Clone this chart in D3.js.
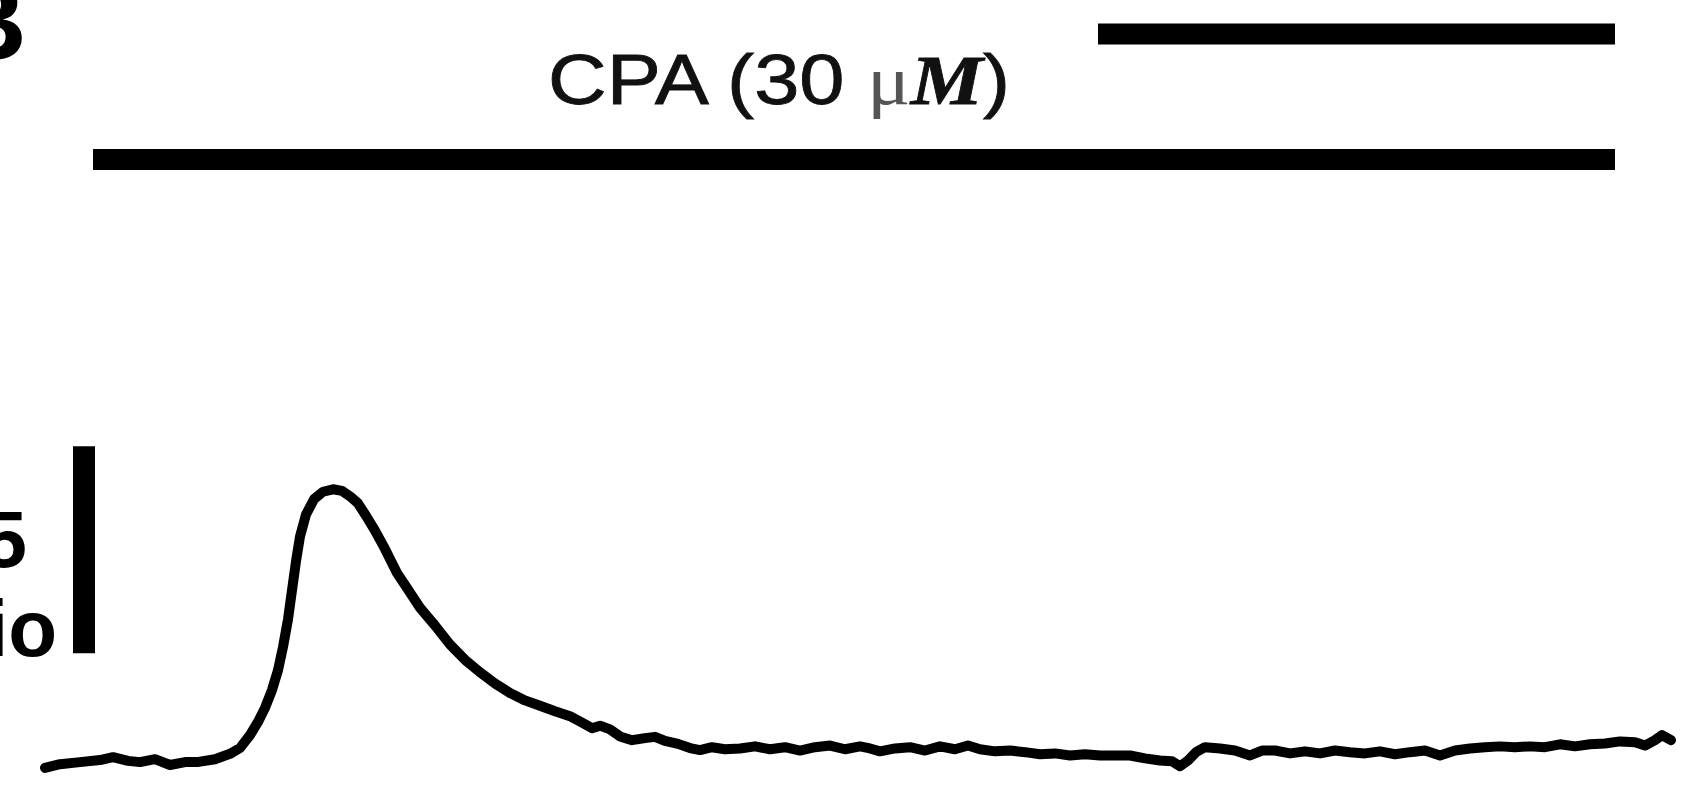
<!DOCTYPE html>
<html>
<head>
<meta charset="utf-8">
<script src="https://cdn.jsdelivr.net/npm/d3@7"></script>
<style>
  html, body { margin: 0; padding: 0; background: #fff; overflow: hidden; }
  svg { display: block; }
</style>
</head>
<body>
<svg id="chart" width="1685" height="788"></svg>
<script>
// Fura-2 style ratio trace, time in s
const timeS = [0,15,35,55,68,83,95,110,125,140,152,170,185,195,205,213,220,227,233,238,
  243,247,251,255,261,269,278,288,297,305,313,321,330,340,352,363,375,390,405,420,
  435,450,465,480,495,510,525,538,547,555,565,575,587,600,610,620,633,645,655,667,
  680,695,710,725,740,755,770,785,800,815,825,835,850,865,880,895,910,923,935,950,
  965,980,995,1010,1025,1040,1055,1070,1085,1100,1115,1127,1135,1143,1151,1160,1175,1190,1205,1217,
  1230,1245,1260,1275,1290,1305,1320,1335,1350,1365,1380,1395,1410,1425,1440,1455,1470,1485,1500,1515,
  1530,1545,1560,1575,1590,1600,1610,1617,1626];

const ratio = [0.793,0.802,0.807,0.812,0.819,0.810,0.807,0.814,0.800,0.807,0.807,0.814,0.827,0.841,0.872,0.904,0.938,0.981,1.029,1.085,
  1.152,1.222,1.292,1.352,1.405,1.442,1.460,1.466,1.462,1.449,1.432,1.402,1.366,1.322,1.264,1.224,1.180,1.137,1.091,1.054,
  1.024,0.997,0.974,0.956,0.943,0.930,0.918,0.901,0.889,0.895,0.886,0.869,0.860,0.865,0.868,0.858,0.851,0.841,0.836,0.843,
  0.838,0.840,0.845,0.838,0.843,0.835,0.843,0.847,0.838,0.845,0.840,0.833,0.840,0.843,0.835,0.845,0.838,0.847,0.838,0.833,
  0.835,0.831,0.826,0.828,0.823,0.826,0.823,0.823,0.823,0.816,0.811,0.809,0.797,0.811,0.831,0.843,0.840,0.835,0.823,0.835,
  0.835,0.828,0.833,0.828,0.835,0.831,0.828,0.833,0.826,0.831,0.835,0.823,0.835,0.840,0.843,0.845,0.843,0.845,0.843,0.850,
  0.845,0.850,0.852,0.857,0.855,0.847,0.860,0.872,0.860];

// drug application bars (start, end in s)
const cpaBar = [48, 1570];
const upperBar = [1053, 1570];
const cpaLabel = "CPA (30 ";

// vertical scale bar: 0.5 ratio units
const scaleBarStart = 1.07;
const scaleBarLength = 0.5;
const scaleBarLabels = ["0.5", "Ratio"];

const svg = d3.select("#chart");

const x = d3.scaleLinear().domain([0, 1626]).range([45, 1671]);
const y = d3.scaleLinear().domain([0.8, 1.3]).range([765, 558]);

const data = timeS.map((t, i) => ({ t, r: ratio[i] }));

// panel letter, clipped at the top edge
svg.append("text")
    .attr("x", 27)
    .attr("y", 60)
    .attr("text-anchor", "end")
    .style("font-family", "Liberation Sans, Arial, sans-serif")
    .style("font-weight", "bold")
    .style("font-size", "112px")
    .text("B");

// application bars
svg.append("line")
    .attr("x1", x(upperBar[0])).attr("x2", x(upperBar[1]))
    .attr("y1", 34).attr("y2", 34)
    .attr("stroke", "#000").attr("stroke-width", 21);

svg.append("line")
    .attr("x1", x(cpaBar[0])).attr("x2", x(cpaBar[1]))
    .attr("y1", 159.5).attr("y2", 159.5)
    .attr("stroke", "#000").attr("stroke-width", 21);

const labelG = svg.append("g");
const label = labelG.append("text")
    .attr("x", 0)
    .attr("y", 0)
    .style("font-family", "Liberation Sans, Arial, sans-serif")
    .style("font-size", "70px")
    .style("fill", "#111")
    .style("stroke", "#111")
    .style("stroke-width", "0.8px");
label.append("tspan").text(cpaLabel);
label.append("tspan")
    .style("font-family", "Liberation Serif, Times New Roman, serif")
    .style("fill", "#555")
    .style("stroke", "none")
    .text("\u03bc");
label.append("tspan")
    .style("font-family", "Liberation Serif, Times New Roman, serif")
    .style("font-style", "italic")
    .style("font-weight", "bold")
    .text("M");
label.append("tspan").text(")");

// stretch the label sideways to the width it has in the figure
const labelWidth = label.node().getComputedTextLength();
labelG.attr("transform", `translate(548,104) scale(${462 / labelWidth},1)`);

// scale bar
svg.append("line")
    .attr("x1", 84).attr("x2", 84)
    .attr("y1", y(scaleBarStart)).attr("y2", y(scaleBarStart + scaleBarLength))
    .attr("stroke", "#000").attr("stroke-width", 22);

svg.append("text")
    .attr("x", 27).attr("y", 567)
    .attr("text-anchor", "end")
    .style("font-family", "Liberation Sans, Arial, sans-serif")
    .style("font-weight", "bold")
    .style("font-size", "80px")
    .text(scaleBarLabels[0]);

svg.append("text")
    .attr("x", 57).attr("y", 656)
    .attr("text-anchor", "end")
    .style("font-family", "Liberation Sans, Arial, sans-serif")
    .style("font-weight", "bold")
    .style("font-size", "80px")
    .text(scaleBarLabels[1]);

// trace
const line = d3.line()
    .x(d => x(d.t))
    .y(d => y(d.r))
    .curve(d3.curveLinear);

svg.append("path")
    .datum(data)
    .attr("d", line)
    .attr("fill", "none")
    .attr("stroke", "#000")
    .attr("stroke-width", 10)
    .attr("stroke-linejoin", "round")
    .attr("stroke-linecap", "round");
</script>
</body>
</html>
